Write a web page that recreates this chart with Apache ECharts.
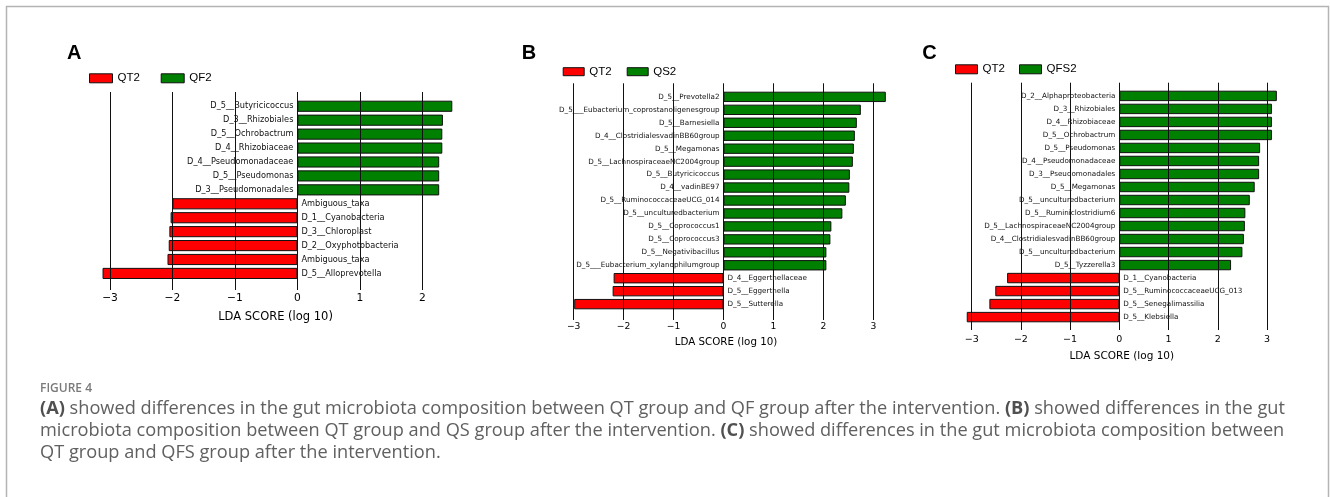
<!DOCTYPE html>
<html><head><meta charset="utf-8">
<script src="https://cdn.jsdelivr.net/npm/echarts@6/dist/echarts.min.js"></script>
<style>html,body{margin:0;padding:0;background:#fff}#c{width:1330px;height:497px}</style>
</head><body><div id="c"></div>
<script>
// ---- Panel A: QT2 vs QF2 ----
const catsA = ['D_5__Butyricicoccus','D_3__Rhizobiales','D_5__Ochrobactrum','D_4__Rhizobiaceae','D_4__Pseudomonadaceae','D_5__Pseudomonas','D_3__Pseudomonadales','Ambiguous_taxa','D_1__Cyanobacteria','D_3__Chloroplast','D_2__Oxyphotobacteria','Ambiguous_taxa','D_5__Alloprevotella'];
const valsA = [2.48, 2.33, 2.32, 2.32, 2.27, 2.27, 2.27, -2.0, -2.03, -2.05, -2.06, -2.08, -3.12];
const groupsA = ['QT2', 'QF2'];
const ticksA = [-3, -2, -1, 0, 1, 2];

// ---- Panel B: QT2 vs QS2 ----
const catsB = ['D_5__Prevotella2','D_5___Eubacterium_coprostanoligenesgroup','D_5__Barnesiella','D_4__ClostridialesvadinBB60group','D_5__Megamonas','D_5__LachnospiraceaeNC2004group','D_5__Butyricicoccus','D_4__vadinBE97','D_5__RuminococcaceaeUCG_014','D_5__unculturedbacterium','D_5__Coprococcus1','D_5__Coprococcus3','D_5__Negativibacillus','D_5___Eubacterium_xylanophilumgroup','D_4__Eggerthellaceae','D_5__Eggerthella','D_5__Sutterella'];
const valsB = [3.25, 2.75, 2.67, 2.63, 2.61, 2.59, 2.53, 2.52, 2.45, 2.38, 2.16, 2.14, 2.06, 2.06, -2.2, -2.22, -2.99];
const groupsB = ['QT2', 'QS2'];
const ticksB = [-3, -2, -1, 0, 1, 2, 3];

// ---- Panel C: QT2 vs QFS2 ----
const catsC = ['D_2__Alphaproteobacteria','D_3__Rhizobiales','D_4__Rhizobiaceae','D_5__Ochrobactrum','D_5__Pseudomonas','D_4__Pseudomonadaceae','D_3__Pseudomonadales','D_5__Megamonas','D_5__unculturedbacterium','D_5__Ruminiclostridium6','D_5__LachnospiraceaeNC2004group','D_4__ClostridialesvadinBB60group','D_5__unculturedbacterium','D_5__Tyzzerella3','D_1__Cyanobacteria','D_5__RuminococcaceaeUCG_013','D_5__Senegalimassilia','D_5__Klebsiella'];
const valsC = [3.2, 3.1, 3.1, 3.1, 2.86, 2.84, 2.84, 2.75, 2.65, 2.56, 2.55, 2.53, 2.50, 2.27, -2.28, -2.52, -2.64, -3.10];
const groupsC = ['QT2', 'QFS2'];
const ticksC = [-3, -2, -1, 0, 1, 2, 3];

const axisTitle = 'LDA SCORE (log 10)';
const panelLetters = ['A', 'B', 'C'];
const captionHead = 'FIGURE 4';
const captionLines = [
  '{b|(A)} showed differences in the gut microbiota composition between QT group and QF group after the intervention. {b|(B)} showed differences in the gut',
  'microbiota composition between QT group and QS group after the intervention. {b|(C)} showed differences in the gut microbiota composition between',
  'QT group and QFS group after the intervention.'
];

const RED = '#ff0000', GREEN = '#008000';
const layout = [
  {cats: catsA, vals: valsA, groups: groupsA, ticks: ticksA, min: -3.3, max: 2.6, left: 91.3, right: 459.8,
   barTop: 99.3, barBottom: 280.4, lineTop: 92, lineBottom: 290, lab: 8.2, tick: 10.7, tickMargin: 3, title: 11.5, nameGap: 21,
   leg: [{x: 89, y: 72.3, w: 23, h: 9}, {x: 160.7, y: 72.3, w: 23, h: 9}], letter: {x: 67, y: 53.7}},
  {cats: catsB, vals: valsB, groups: groupsB, ticks: ticksB, min: -3.3, max: 3.4, left: 558.7, right: 893.3,
   barTop: 90.4, barBottom: 310.6, lineTop: 83.3, lineBottom: 320, lab: 7.2, tick: 9.2, tickMargin: 2.5, title: 10.3, nameGap: 17,
   leg: [{x: 562.7, y: 65.7, w: 21, h: 8}, {x: 626.7, y: 65.7, w: 21, h: 8}], letter: {x: 521.7, y: 53.7}},
  {cats: catsC, vals: valsC, groups: groupsC, ticks: ticksC, min: -3.3, max: 3.4, left: 956.9, right: 1286.7,
   barTop: 89.4, barBottom: 323.6, lineTop: 82.7, lineBottom: 330, lab: 7.2, tick: 9.5, tickMargin: 5, title: 10.5, nameGap: 21,
   leg: [{x: 955, y: 63.3, w: 22, h: 9}, {x: 1019, y: 63.3, w: 22, h: 9}], letter: {x: 922.3, y: 53.3}}
];

const grid = [], xAxis = [], yAxis = [], series = [], legend = [], graphic = [];
const fmtTick = (ticks) => (v) => {
  const r = Math.round(v);
  if (Math.abs(v - r) > 1e-6 || ticks.indexOf(r) < 0) return '';
  return r < 0 ? '\u2212' + Math.abs(r) : String(r);
};

layout.forEach((p, i) => {
  const gb = 2 * i, go = 2 * i + 1;
  grid.push({left: p.left, top: p.barTop, width: p.right - p.left, height: p.barBottom - p.barTop, containLabel: false, outerBoundsMode: 'none'});
  grid.push({left: p.left, top: p.lineTop, width: p.right - p.left, height: p.lineBottom - p.lineTop, containLabel: false, outerBoundsMode: 'none'});
  xAxis.push({type: 'value', gridIndex: gb, min: p.min, max: p.max, show: false});
  yAxis.push({type: 'category', gridIndex: gb, data: p.cats, inverse: true, show: false});
  xAxis.push({type: 'value', gridIndex: go, min: p.min, max: p.max, splitNumber: 6,
    axisLine: {show: false}, axisTick: {show: false}, splitLine: {show: false},
    axisLabel: {show: true, margin: p.tickMargin, fontSize: p.tick, fontFamily: 'DejaVu Sans', color: '#000', formatter: fmtTick(p.ticks)},
    name: axisTitle, nameLocation: 'middle', nameGap: p.nameGap,
    nameTextStyle: {fontSize: p.title, fontFamily: 'DejaVu Sans', color: '#000', verticalAlign: 'top'}});
  yAxis.push({type: 'value', gridIndex: go, min: 0, max: 1, show: false});

  const labelCommon = {show: true, distance: 4, fontSize: p.lab, fontFamily: 'DejaVu Sans', color: '#111',
    formatter: (q) => p.cats[q.dataIndex]};
  series.push({type: 'bar', name: p.groups[0], xAxisIndex: gb, yAxisIndex: gb,
    data: p.vals.map(v => v < 0 ? v : '-'), barWidth: '80%', barGap: '-100%', silent: true, animation: false,
    itemStyle: {color: RED, borderColor: '#111', borderWidth: 1},
    label: Object.assign({position: 'right'}, labelCommon)});
  series.push({type: 'bar', name: p.groups[1], xAxisIndex: gb, yAxisIndex: gb,
    data: p.vals.map(v => v > 0 ? v : '-'), barWidth: '80%', barGap: '-100%', silent: true, animation: false,
    itemStyle: {color: GREEN, borderColor: '#111', borderWidth: 1},
    label: Object.assign({position: 'left'}, labelCommon)});
  series.push({type: 'line', name: 'grid' + i, xAxisIndex: go, yAxisIndex: go, data: [], silent: true, animation: false,
    markLine: {silent: true, symbol: ['none', 'none'], animation: false, z: 5, label: {show: false},
      lineStyle: {color: '#111', width: 1, type: 'solid'}, emphasis: {disabled: true},
      data: p.ticks.map(t => ({xAxis: t}))}});

  p.groups.forEach((g, k) => {
    const L = p.leg[k];
    legend.push({data: [g], left: L.x, top: L.y, padding: 0, itemWidth: L.w, itemHeight: L.h, icon: 'rect',
      selectedMode: false, itemStyle: {borderColor: '#111', borderWidth: 1},
      textStyle: {fontSize: 11.5, fontFamily: 'Liberation Sans', color: '#000'}});
  });
  graphic.push({type: 'text', x: p.letter.x, y: p.letter.y, silent: true,
    style: {text: panelLetters[i], fontSize: 20, fontWeight: 'bold', fontFamily: 'Liberation Sans', fill: '#000', verticalAlign: 'middle', align: 'left'}});
});

graphic.push({type: 'rect', silent: true, shape: {x: 6.5, y: 6.5, width: 1322, height: 520},
  style: {fill: 'none', stroke: '#b4b4b4', lineWidth: 1.5}});
graphic.push({type: 'text', x: 40, y: 389, silent: true,
  style: {text: captionHead, fontSize: 12, fontWeight: 600, fontFamily: 'Open Sans', fill: '#7a7a7a', verticalAlign: 'middle', align: 'left'}});
const capY = [409, 431, 453];
captionLines.forEach((t, k) => {
  graphic.push({type: 'text', x: 40, y: capY[k], silent: true,
    style: {text: t, fontSize: 18.2, fontFamily: 'Open Sans', fill: '#606060', verticalAlign: 'middle', align: 'left',
      rich: {b: {fontWeight: 'bold', fontSize: 18.2, fontFamily: 'Open Sans', fill: '#505050'}}}});
});

const chart = echarts.init(document.getElementById('c'), null, {renderer: 'canvas'});
chart.setOption({animation: false, backgroundColor: '#fff', grid, xAxis, yAxis, series, legend, graphic});
</script></body></html>
